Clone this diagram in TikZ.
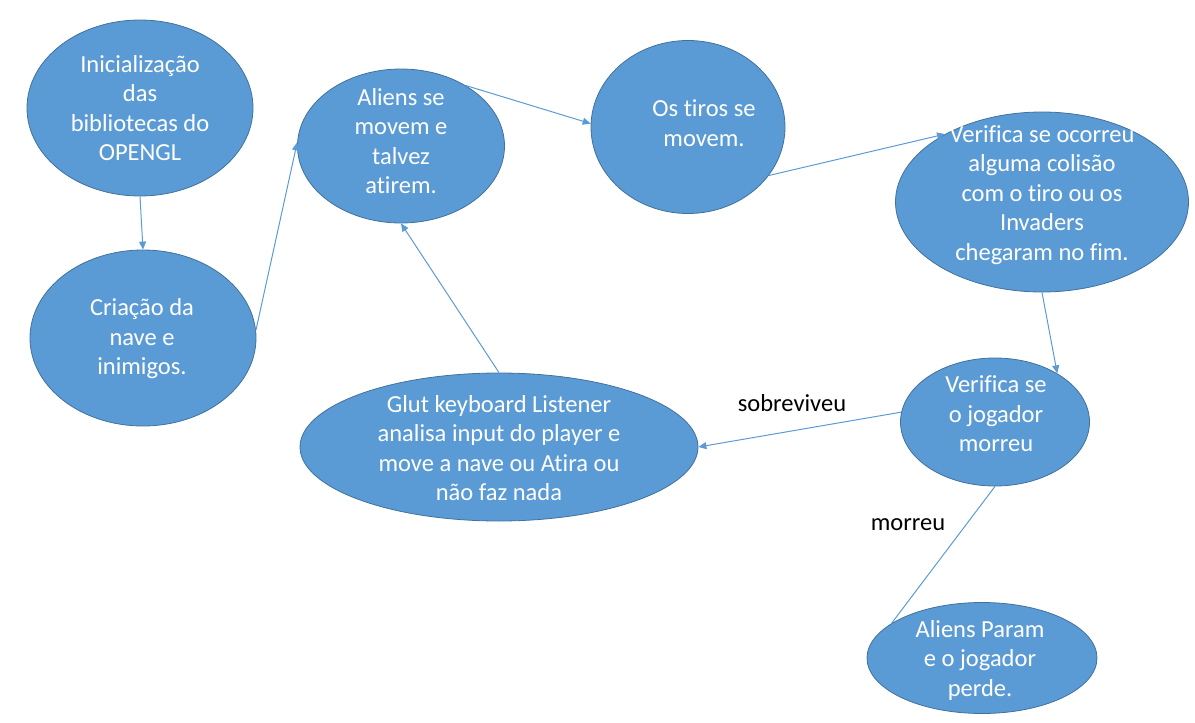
\documentclass[tikz,border=0pt]{standalone}
\usepackage{fontspec}
\setmainfont{Carlito}[Ligatures=NoCommon]
\usepackage{tikz}
\usetikzlibrary{shapes.geometric,arrows.meta}

\definecolor{azul}{HTML}{5B9BD5}
\definecolor{borda}{HTML}{41719C}

\begin{document}
\begin{tikzpicture}[x=1pt,y=-1pt,
	bolha/.style={ellipse,draw=borda,fill=azul,line width=0.8pt,inner sep=0pt},
	texto/.style={text=white,align=center,font=\fontsize{24.5}{29.5}\selectfont},
	rotulo/.style={text=black,font=\fontsize{24.5}{29}\selectfont},
	liga/.style={draw=azul,line width=1pt,-{Triangle[length=8pt,width=7pt]}}]
\useasboundingbox (0,0) rectangle (1195,723);
% estados
\node [bolha,minimum width=226,minimum height=176] (init) at (140,108) {};
\node [texto] (init-t) at (140,108) {Inicialização\\das\\bibliotecas do\\OPENGL};
\node [bolha,minimum width=226,minimum height=176] (cria) at (143,338) {};
\node [texto] (cria-t) at (142,339) {Criação da\\nave e\\inimigos.};
\node [bolha,minimum width=207,minimum height=154] (aliens) at (401,146) {};
\node [texto] (aliens-t) at (401,141) {Aliens se\\movem e\\talvez\\atirem.};
\node [bolha,minimum width=194,minimum height=173] (tiros) at (688,127) {};
\node [texto] (tiros-t) at (704,123) {Os tiros se\\movem.};
\node [bolha,minimum width=293,minimum height=180] (colisao) at (1042,202) {};
\node [texto] (colisao-t) at (1042,195) {Verifica se ocorreu\\alguma colisão\\com o tiro ou os\\Invaders\\chegaram no fim.};
\node [bolha,minimum width=189,minimum height=128] (jogador) at (995,422) {};
\node [texto] (jogador-t) at (996,414) {Verifica se\\o jogador\\morreu};
\node [bolha,minimum width=398,minimum height=148] (glut) at (499,447) {};
\node [texto] (glut-t) at (499,448) {Glut keyboard Listener\\analisa input do player e\\move a nave ou Atira ou\\não faz nada};
\node [bolha,minimum width=230,minimum height=111] (param) at (982,658) {};
\node [texto] (param-t) at (980,660) {Aliens Param\\e o jogador\\perde.};
% ligacoes
\draw [liga] (init.south) -- (cria.north);
\draw [liga] (cria.4) -- (aliens.178);
\draw [liga] (aliens.43) -- (tiros.178);
\draw [liga] (tiros.-31) -- (colisao.145);
\draw [liga] (colisao.south) -- (jogador.38);
\draw [liga] (jogador.174) -- (glut.east);
\draw [liga] (glut.north) -- (aliens.south);
\draw [draw=azul,line width=1pt] (jogador.south) -- (param.159);
% condicoes
\node [rotulo] (sobrev) at (792,403) {sobreviveu};
\node [rotulo] (morreu) at (908,525) {morreu};
\end{tikzpicture}
\end{document}
